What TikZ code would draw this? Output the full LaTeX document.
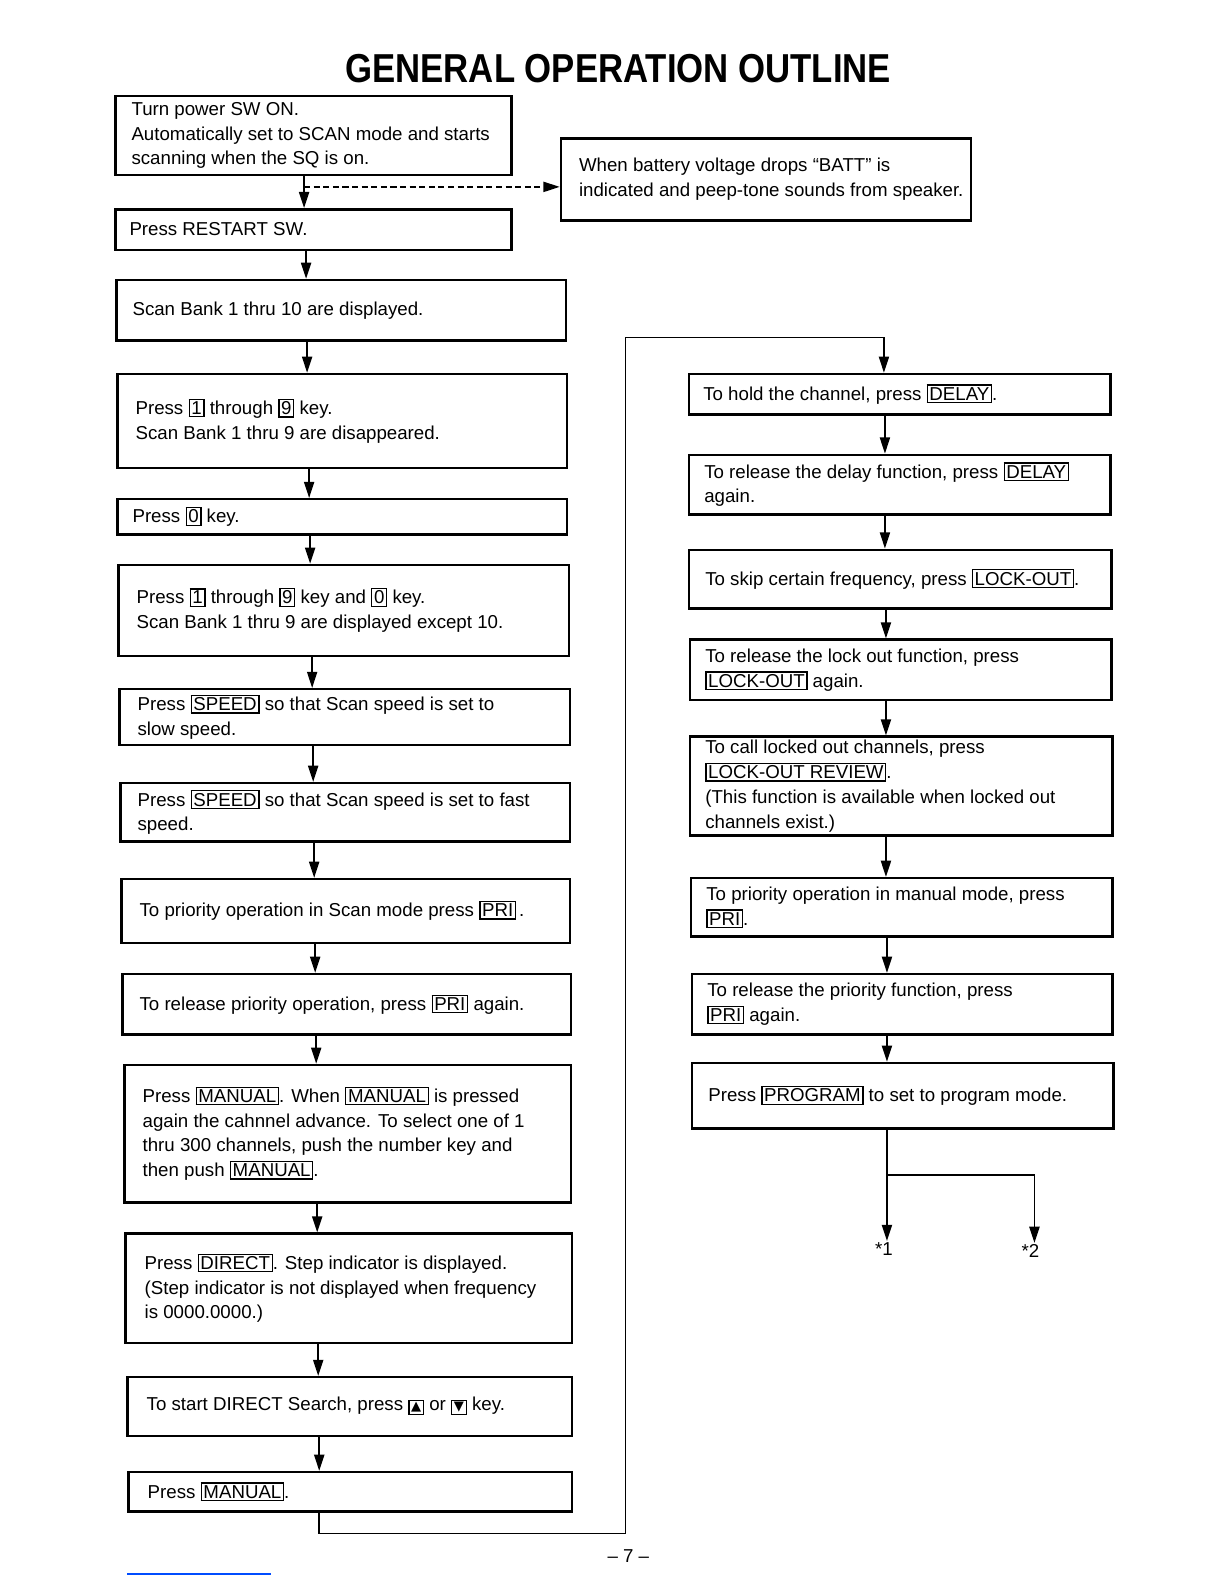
\documentclass[tikz,border=0pt]{standalone}
\usepackage{fontspec}
\setmainfont{Liberation Sans}
\newfontfamily\titlefont[FakeStretch=0.86]{Liberation Sans}
\newfontfamily\symfont{DejaVu Sans}
\usetikzlibrary{arrows.meta,positioning}
\setlength{\fboxsep}{1.6pt}
\setlength{\fboxrule}{1.2pt}
\newcommand{\kbox}[1]{\fbox{#1}}
\newcommand{\bodyfont}{\fontsize{18.5}{24.5}\selectfont}

\begin{document}
\begin{tikzpicture}[x=1pt,y=-1pt,
  stepbox/.style={draw, line width=2.4pt, anchor=north west, inner sep=0pt},
  steptext/.style={align=left, inner sep=0pt, font=\bodyfont},
  flow/.style={line width=1.7pt, -{Triangle[length=16pt,width=10pt]}},
  ]
  \useasboundingbox[fill=white] (0,0) rectangle (1212,1568);

  \node[font=\titlefont\fontsize{40}{44}\selectfont\bfseries, anchor=base] (title) at (612,82) {GENERAL OPERATION OUTLINE};

  % left column
  \node[stepbox, minimum width=392, minimum height=78] (b1) at (113,94) {};
  \node[steptext, right=17pt of b1.west] (b1t) {Turn power SW ON.\\Automatically set to SCAN mode and starts\\scanning when the SQ is on.};
  \node[stepbox, minimum width=392, minimum height=40] (b2) at (113,206) {};
  \node[steptext, right=15pt of b2.west] (b2t) {Press RESTART SW.};
  \node[stepbox, minimum width=445, minimum height=60] (b3) at (114,276) {};
  \node[steptext, right=17pt of b3.west] (b3t) {Scan Bank 1 thru 10 are displayed.};
  \node[stepbox, minimum width=445, minimum height=93] (b4) at (115,369) {};
  \node[steptext, right=19pt of b4.west] (b4t) {Press \kbox{1} through \kbox{9} key.\\Scan Bank 1 thru 9 are disappeared.};
  \node[stepbox, minimum width=445, minimum height=35] (b5) at (115,493) {};
  \node[steptext, right=16pt of b5.west] (b5t) {Press \kbox{0} key.};
  \node[stepbox, minimum width=446, minimum height=90] (b6) at (116,558) {};
  \node[steptext, right=19pt of b6.west] (b6t) {Press \kbox{1} through \kbox{9} key and \kbox{0} key.\\Scan Bank 1 thru 9 are displayed except 10.};
  \node[stepbox, minimum width=446, minimum height=55] (b7) at (117,681) {};
  \node[steptext, right=19pt of b7.west] (b7t) {Press \kbox{SPEED} so that Scan speed is set to\\slow speed.};
  \node[stepbox, minimum width=445, minimum height=58] (b8) at (118,774) {};
  \node[steptext, right=18pt of b8.west] (b8t) {Press \kbox{SPEED} so that Scan speed is set to fast\\speed.};
  \node[stepbox, minimum width=444, minimum height=63] (b9) at (119,869) {};
  \node[steptext, right=19pt of b9.west] (b9t) {To priority operation in Scan mode press \kbox{PRI}\,.};
  \node[stepbox, minimum width=444, minimum height=60] (b10) at (120,963) {};
  \node[steptext, right=18pt of b10.west] (b10t) {To release priority operation, press \kbox{PRI} again.};
  \node[stepbox, minimum width=442, minimum height=136] (b11) at (122,1053) {};
  \node[steptext, right=19pt of b11.west] (b11t) {Press \kbox{MANUAL}. When \kbox{MANUAL} is pressed\\again the cahnnel advance. To select one of 1\\thru 300 channels, push the number key and\\then push \kbox{MANUAL}.};
  \node[stepbox, minimum width=442, minimum height=108] (b12) at (123,1220) {};
  \node[steptext, right=20pt of b12.west] (b12t) {Press \kbox{DIRECT}. Step indicator is displayed.\\(Step indicator is not displayed when frequency\\is 0000.0000.)};
  \node[stepbox, minimum width=440, minimum height=58] (b13) at (125,1362) {};
  \node[steptext, right=20pt of b13.west] (b13t) {To start DIRECT Search, press \kbox{\symfont\fontsize{13}{13}\selectfont ▲} or \kbox{\symfont\fontsize{13}{13}\selectfont ▼} key.};
  \node[stepbox, minimum width=439, minimum height=39] (b14) at (126,1456) {};
  \node[steptext, right=20pt of b14.west] (b14t) {Press \kbox{MANUAL}.};

  % right column
  \node[stepbox, minimum width=406, minimum height=81] (bat) at (554,136) {};
  \node[steptext, right=19pt of bat.west] (batt) {When battery voltage drops “BATT” is\\indicated and peep-tone sounds from speaker.};
  \node[stepbox, minimum width=417, minimum height=40] (r1) at (681,369) {};
  \node[steptext, right=15pt of r1.west] (r1t) {To hold the channel, press \kbox{DELAY}.};
  \node[stepbox, minimum width=417, minimum height=59] (r2) at (681,449) {};
  \node[steptext, right=16pt of r2.west] (r2t) {To release the delay function, press \kbox{DELAY}\\again.};
  \node[stepbox, minimum width=418, minimum height=58] (r3) at (681,543) {};
  \node[steptext, right=17pt of r3.west] (r3t) {To skip certain frequency, press \kbox{LOCK-OUT}.};
  \node[stepbox, minimum width=417, minimum height=60] (r4) at (682,632) {};
  \node[steptext, right=16pt of r4.west] (r4t) {To release the lock out function, press\\\kbox{LOCK-OUT} again.};
  \node[stepbox, minimum width=418, minimum height=98] (r5) at (682,728) {};
  \node[steptext, right=16pt of r5.west] (r5t) {To call locked out channels, press\\\kbox{LOCK-OUT REVIEW}.\\(This function is available when locked out\\channels exist.)};
  \node[stepbox, minimum width=417, minimum height=58] (r6) at (683,868) {};
  \node[steptext, right=16pt of r6.west] (r6t) {To priority operation in manual mode, press\\\kbox{PRI}.};
  \node[stepbox, minimum width=416, minimum height=60] (r7) at (684,963) {};
  \node[steptext, right=16pt of r7.west] (r7t) {To release the priority function, press\\\kbox{PRI} again.};
  \node[stepbox, minimum width=417, minimum height=65] (r8) at (684,1051) {};
  \node[steptext, right=17pt of r8.west] (r8t) {Press \kbox{PROGRAM} to set to program mode.};

  \node[font=\bodyfont, inner sep=1pt] (m1) at (875,1236) {*1};
  \node[font=\bodyfont, inner sep=1pt] (m2) at (1020,1238) {*2};
  \node[font=\bodyfont] (page) at (622,1540) {– 7 –};

  % connectors
  \foreach \a/\b/\x in {b1/b2/301,b2/b3/303,b3/b4/304,b4/b5/306,b5/b6/307,b6/b7/309,
      b7/b8/310,b8/b9/311,b9/b10/312,b10/b11/313,b11/b12/314,b12/b13/315,b13/b14/316,
      r1/r2/876,r2/r3/876,r3/r4/877,r4/r5/877,r5/r6/877,r6/r7/878,r7/r8/878}
    \draw[flow] (\a.south -| \x,0) -- (\b.north -| \x,0);

  \coordinate (battsplit) at (301,185);
  \draw[flow, line width=1.5pt, dash pattern=on 6pt off 3.5pt] (battsplit) -- (bat.west |- battsplit);

  \coordinate (loopL) at (619,1518);
  \coordinate (loopT) at (619,334);
  \draw[flow, line width=1.5pt] (b14.south -| 316,0) |- (loopL) -- (loopT) -| (r1.north -| 875,0);

  \coordinate (fork) at (878,1163);
  \draw[flow] (r8.south -| 878,0) -- (m1.north -| 878,0);
  \draw[flow] (fork) -| (m2.north -| 1024,0);

  \draw[blue!70!cyan, line width=1.2pt] (126,1558) -- (268,1558);
\end{tikzpicture}
\end{document}
